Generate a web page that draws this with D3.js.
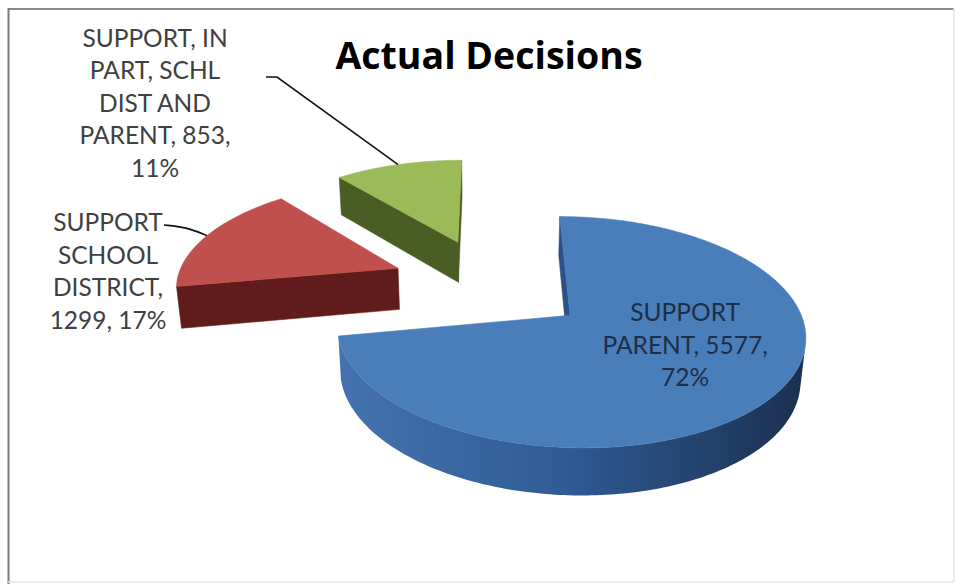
<!DOCTYPE html>
<html>
<head>
<meta charset="utf-8">
<script src="https://cdn.jsdelivr.net/npm/d3@7"></script>
<style>
  html, body { margin: 0; padding: 0; background: #ffffff; }
  svg { display: block; }
</style>
</head>
<body>
<div id="chart"></div>
<script>
// ---------------- DATA ----------------
const title = "Actual Decisions";
const categories = ["SUPPORT PARENT", "SUPPORT SCHOOL DISTRICT", "SUPPORT, IN PART, SCHL DIST AND PARENT"];
const values = [5577, 1299, 853];

// ---------------- STYLE / LAYOUT ----------------
const W = 957, H = 584;
const topColors  = ["#4A7EBB", "#C0504D", "#9BBB59"];
const wallStops  = [["#4573AF", "#2F5A94", "#1B3151"], ["#7A2826", "#5E1D1B", "#3E1211"], ["#5E7530", "#4B5E25", "#323F18"]];
const cutColors  = ["#2B5189", "#5F1C1A", "#4A5D24"];
const labelColors = ["#1E2D48", "#404040", "#404040"];
const labelFont = "Lato, 'Open Sans', sans-serif";
const labelSize = 24.5, lineStep = 32.5, wrapChars = 13;

// 3D projection parameters
const tilt = 28 * Math.PI / 180, camD = 1400, R = 222, depthH = 48, explode = 100;
const C = [490, 284];

const svg = d3.select("#chart").append("svg").attr("width", W).attr("height", H);
const defs = svg.append("defs");

// frame
svg.append("rect").attr("x", 0).attr("y", 0).attr("width", W).attr("height", H).attr("fill", "#fff");
svg.append("line").attr("x1", 8).attr("y1", 9).attr("x2", 954).attr("y2", 9).attr("stroke", "#8a8a8a").attr("stroke-width", 2);
svg.append("line").attr("x1", 8.5).attr("y1", 8).attr("x2", 8.5).attr("y2", 584).attr("stroke", "#7a7a7a").attr("stroke-width", 2);
svg.append("line").attr("x1", 954).attr("y1", 8).attr("x2", 954).attr("y2", 582).attr("stroke", "#e6e6e6").attr("stroke-width", 1.5);
svg.append("line").attr("x1", 8).attr("y1", 582).attr("x2", 954).attr("y2", 582).attr("stroke", "#e6e6e6").attr("stroke-width", 1.5);

// title
svg.append("text").attr("x", 489).attr("y", 69).attr("text-anchor", "middle")
  .attr("font-family", "'Open Sans', Lato, sans-serif").attr("font-weight", 700).attr("font-size", 37.5)
  .attr("fill", "#000").text(title);

// projection: x right, y up, z away from viewer
const sinT = Math.sin(tilt), cosT = Math.cos(tilt);
function project(x, y, z) {
  const sy = y * cosT + z * sinT;
  const depth = z * cosT - y * sinT;
  const s = camD / (camD + depth);
  return [C[0] + x * s, C[1] - sy * s, depth];
}
const cam = [0, camD * sinT, -camD * cosT];

const total = d3.sum(values);
const arcs = d3.pie().sort(null).value(d => d)(values);
const line = d3.line();

const slices = arcs.map((a, k) => {
  const a0 = a.startAngle, a1 = a.endAngle, am = (a0 + a1) / 2;
  const ox = explode * Math.sin(am), oz = explode * Math.cos(am);
  const n = Math.max(2, Math.ceil((a1 - a0) / (Math.PI / 180)));
  const angs = d3.range(n + 1).map(i => a0 + (a1 - a0) * i / n);
  const ptsW = angs.map(t => [ox + R * Math.sin(t), oz + R * Math.cos(t)]);
  const apexDepth = project(ox, 0, oz)[2];
  return { k, a0, a1, am, ox, oz, angs, ptsW, apexDepth };
});

function visible(nrm, p) {
  return nrm[0] * (cam[0] - p[0]) + nrm[1] * (cam[1] - p[1]) + nrm[2] * (cam[2] - p[2]) > 0;
}

const g = svg.append("g");
const order = slices.slice().sort((p, q) => q.apexDepth - p.apexDepth);

order.forEach(sl => {
  const k = sl.k;
  // gradient for the curved wall
  const left = project(sl.ox - R, -depthH / 2, sl.oz)[0], right = project(sl.ox + R, -depthH / 2, sl.oz)[0];
  const gid = "wall" + k;
  const grad = defs.append("linearGradient").attr("id", gid).attr("gradientUnits", "userSpaceOnUse")
    .attr("x1", left).attr("x2", right).attr("y1", 0).attr("y2", 0);
  wallStops[k].forEach((c, j) => grad.append("stop").attr("offset", j / (wallStops[k].length - 1)).attr("stop-color", c));

  const faces = [];
  // visible runs of the outer wall
  const vis = [];
  for (let i = 0; i < sl.angs.length - 1; i++) {
    const tm = (sl.angs[i] + sl.angs[i + 1]) / 2;
    const nrm = [Math.sin(tm), 0, Math.cos(tm)];
    const pm = [sl.ox + R * Math.sin(tm), -depthH / 2, sl.oz + R * Math.cos(tm)];
    vis.push(visible(nrm, pm));
  }
  let i = 0;
  while (i < vis.length) {
    if (!vis[i]) { i++; continue; }
    let j = i;
    while (j < vis.length && vis[j]) j++;
    const run = sl.ptsW.slice(i, j + 1);
    const topP = run.map(p => project(p[0], 0, p[1]));
    const botP = run.map(p => project(p[0], -depthH, p[1])).reverse();
    const poly = topP.concat(botP);
    faces.push({ poly, depth: d3.mean(poly, d => d[2]), color: `url(#${gid})`, stroke: "none" });
    i = j;
  }
  // radial cut faces
  const cuts = [
    { nrm: [-Math.cos(sl.a0), 0, Math.sin(sl.a0)], p: sl.ptsW[0] },
    { nrm: [Math.cos(sl.a1), 0, -Math.sin(sl.a1)], p: sl.ptsW[sl.ptsW.length - 1] }
  ];
  cuts.forEach(c => {
    const pm = [(sl.ox + c.p[0]) / 2, -depthH / 2, (sl.oz + c.p[1]) / 2];
    if (!visible(c.nrm, pm)) return;
    const poly = [project(sl.ox, 0, sl.oz), project(c.p[0], 0, c.p[1]), project(c.p[0], -depthH, c.p[1]), project(sl.ox, -depthH, sl.oz)];
    faces.push({ poly, depth: d3.mean(poly, d => d[2]), color: cutColors[k], stroke: cutColors[k] });
  });
  faces.sort((p, q) => q.depth - p.depth);
  faces.forEach(f => {
    g.append("path").attr("d", line(f.poly.map(d => [d[0], d[1]])) + "Z")
      .attr("fill", f.color).attr("stroke", f.stroke).attr("stroke-width", 0.6).attr("stroke-linejoin", "round");
  });
  // top face
  const topPts = [project(sl.ox, 0, sl.oz)].concat(sl.ptsW.map(p => project(p[0], 0, p[1])));
  g.append("path").attr("d", line(topPts.map(d => [d[0], d[1]])) + "Z")
    .attr("fill", topColors[k]).attr("stroke", topColors[k]).attr("stroke-width", 0.6).attr("stroke-linejoin", "round");
});

// ---------------- LABELS ----------------
function wrap(str) {
  const words = str.split(" ");
  const lines = [];
  let cur = "";
  words.forEach(w => {
    const t = cur ? cur + " " + w : w;
    if (t.length > wrapChars && cur) { lines.push(cur); cur = w; } else cur = t;
  });
  if (cur) lines.push(cur);
  return lines;
}
const fmtPct = d3.format(".0%");
const labelText = values.map((v, i) => `${categories[i]}, ${v}, ${fmtPct(v / total)}`);

function arcPointScreen(sl, frac) {
  const x = sl.ox + R * frac * Math.sin(sl.am), z = sl.oz + R * frac * Math.cos(sl.am);
  return project(x, 0, z);
}
// label centres (x, y of vertical middle of the text block)
const inside = arcPointScreen(slices[0], 0.52);
const labelPos = [[inside[0] + 14, inside[1] - 10], [108, 271], [155, 103]];

labelText.forEach((txt, i) => {
  const lines = wrap(txt);
  const [cx, cy] = labelPos[i];
  const y0 = cy - (lines.length - 1) * lineStep / 2 + labelSize * 0.36;
  const t = svg.append("text").attr("text-anchor", "middle")
    .attr("font-family", labelFont).attr("font-size", labelSize).attr("fill", labelColors[i]);
  lines.forEach((ln, j) => {
    t.append("tspan").attr("x", cx).attr("y", y0 + j * lineStep).text(ln);
  });
});

// leader lines for outside labels
const leaderStarts = [null, [[164, 225], [186, 227]], [[266, 77], [277, 77]]];
[1, 2].forEach(i => {
  const end = arcPointScreen(slices[i], 1);
  const pts = leaderStarts[i].concat([[end[0], end[1]]]);
  svg.append("path").attr("d", d3.line().curve(i === 1 ? d3.curveBasis : d3.curveLinear)(pts))
    .attr("fill", "none").attr("stroke", "#111").attr("stroke-width", 1.6);
});
</script>
</body>
</html>
